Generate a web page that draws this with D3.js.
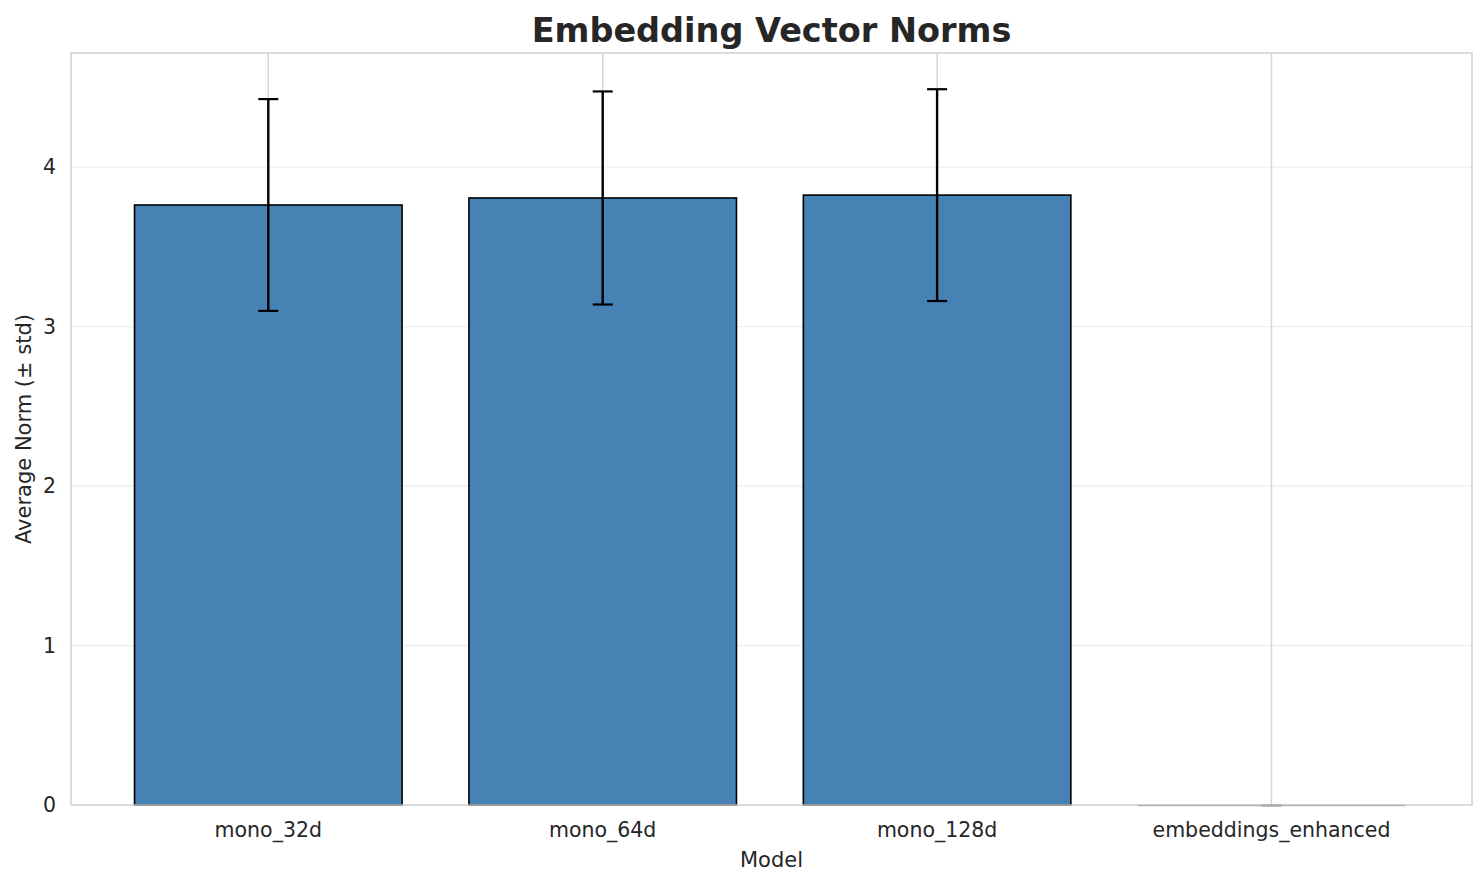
<!DOCTYPE html>
<html><head><meta charset="utf-8">
<script src="https://cdn.jsdelivr.net/npm/d3@7"></script>
<style>body{margin:0;background:#fff}svg{display:block}text{font-family:"DejaVu Sans",sans-serif;fill:#262626}</style>
</head><body><svg id="c" width="1483" height="885"></svg>
<script>
const categories = ["mono_32d","mono_64d","mono_128d","embeddings_enhanced"];
const means = [3.762, 3.806, 3.824, 0];
const stds = [0.664, 0.668, 0.664, 0];
const yTicks = [0,1,2,3,4];

const svg = d3.select("#c");
const L=71,R=1472,T=53,B=805;
const x = d3.scaleLinear().domain([0,3]).range([268.3,1271.5]);
const y = d3.scaleLinear().domain([0,4.715]).range([B,T]);
const bw = 0.8*(x(1)-x(0));

// grids
svg.append("g").selectAll("line").data(yTicks.slice(1)).join("line")
  .attr("x1",L).attr("x2",R).attr("y1",d=>y(d)).attr("y2",d=>y(d))
  .attr("stroke","#efefef").attr("stroke-width",1.3);
svg.append("g").selectAll("line").data(categories).join("line")
  .attr("x1",(d,i)=>x(i)).attr("x2",(d,i)=>x(i)).attr("y1",T).attr("y2",B)
  .attr("stroke","#d5d5d5").attr("stroke-width",1.4);

// bars
const nonzero = means.map((m,i)=>i).filter(i=>means[i]>0);
svg.append("g").selectAll("rect").data(nonzero).join("rect")
  .attr("x",i=>x(i)-bw/2).attr("width",bw)
  .attr("y",i=>y(means[i])).attr("height",i=>y(0)-y(means[i]))
  .attr("fill","steelblue").attr("stroke","#000").attr("stroke-width",1.6);

// error bars
const eg = svg.append("g");
nonzero.forEach(i=>{
  const m=means[i], s=stds[i], cx=x(i);
  eg.append("line").attr("x1",cx).attr("x2",cx).attr("y1",y(m-s)).attr("y2",y(m+s)).attr("stroke","#000").attr("stroke-width",2.4);
  [m-s,m+s].forEach(v=>eg.append("line").attr("x1",cx-10).attr("x2",cx+10).attr("y1",y(v)).attr("y2",y(v)).attr("stroke","#000").attr("stroke-width",2.2));
});

// spines
svg.append("rect").attr("x",L).attr("y",T).attr("width",R-L).attr("height",B-T)
  .attr("fill","none").attr("stroke","#cccccc").attr("stroke-width",1.4);

// zero-height bars and their error caps (drawn over bottom spine)
means.forEach((m,i)=>{
  if(m>0) return;
  const cx=x(i);
  svg.append("line").attr("x1",cx-bw/2).attr("x2",cx+bw/2).attr("y1",y(0)+0.5).attr("y2",y(0)+0.5)
    .attr("stroke","#b3b3b3").attr("stroke-width",1.6);
  svg.append("line").attr("x1",cx-10).attr("x2",cx+10).attr("y1",y(m)+0.5).attr("y2",y(m)+0.5)
    .attr("stroke","#aaaaaa").attr("stroke-width",2.4);
});

// axes labels
svg.append("g").selectAll("text").data(yTicks).join("text")
  .attr("x",L-15).attr("y",d=>y(d)).attr("dy","0.35em").attr("text-anchor","end")
  .attr("font-size",20.5).text(d=>d3.format("d")(d));
svg.append("g").selectAll("text").data(categories).join("text")
  .attr("x",(d,i)=>x(i)).attr("y",B+25).attr("dy","0.35em").attr("text-anchor","middle")
  .attr("font-size",20.5).text(d=>d);

svg.append("text").attr("x",(L+R)/2).attr("y",860).attr("dy","0.35em").attr("text-anchor","middle")
  .attr("font-size",21).text("Model");
svg.append("text").attr("transform",`translate(24,${(T+B)/2}) rotate(-90)`).attr("dy","0.35em")
  .attr("text-anchor","middle").attr("font-size",21).text("Average Norm (± std)");
svg.append("text").attr("x",(L+R)/2).attr("y",30).attr("dy","0.35em").attr("text-anchor","middle")
  .attr("font-size",33.5).attr("font-weight","bold").text("Embedding Vector Norms");
</script></body></html>
